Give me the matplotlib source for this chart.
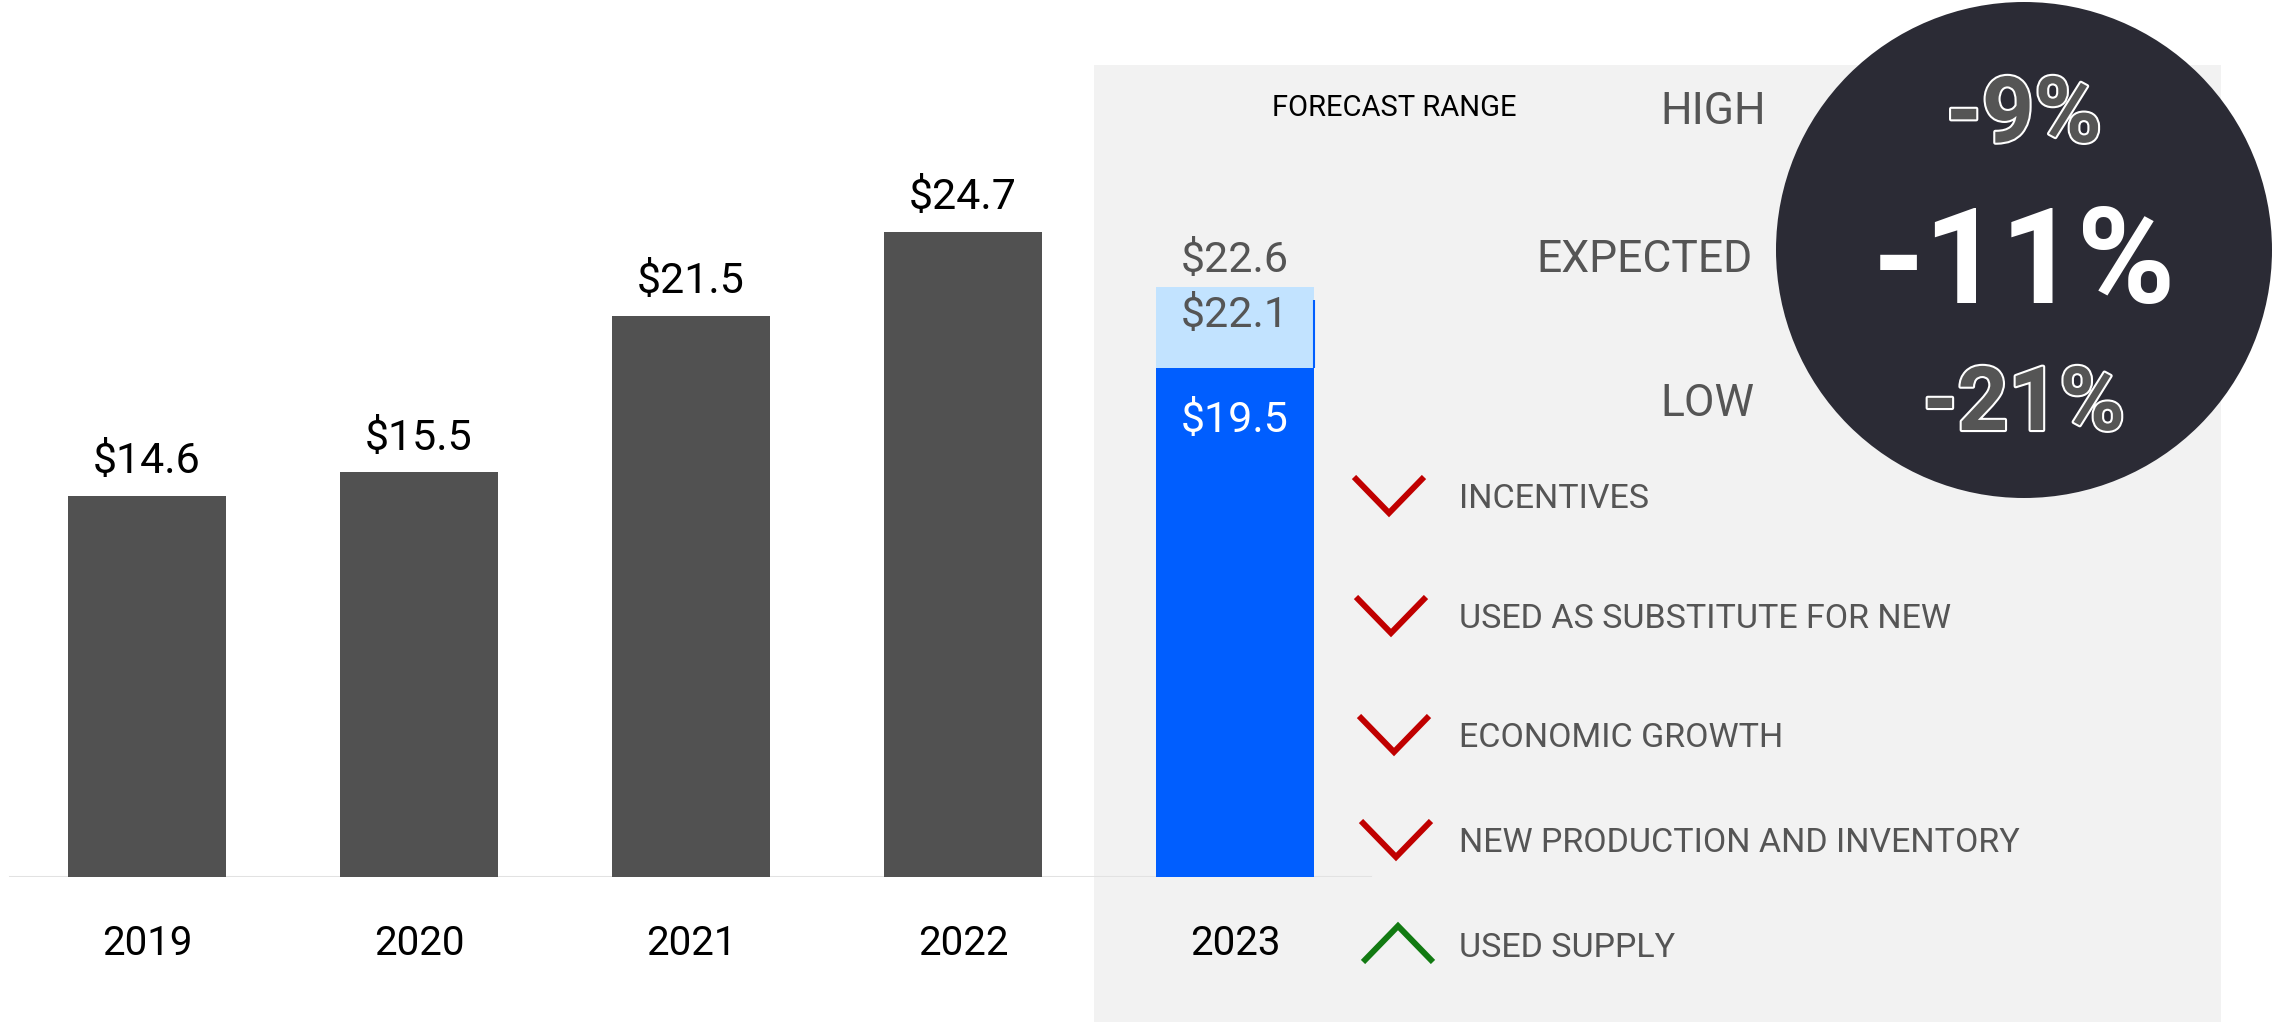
import matplotlib
matplotlib.use('Agg')
import matplotlib.pyplot as plt
import matplotlib.patheffects as pe
from matplotlib.patches import Rectangle, Circle

plt.rcParams['font.family'] = ['Roboto', 'DejaVu Sans']

# data
years = ['2019', '2020', '2021', '2022', '2023']
actuals = [14.6, 15.5, 21.5, 24.7]
forecast_low = 19.5
forecast_expected = 22.1
forecast_high = 22.6
range_names = ['HIGH', 'EXPECTED', 'LOW']
range_pcts = ['-9%', '-11%', '-21%']
drivers = ['INCENTIVES', 'USED AS SUBSTITUTE FOR NEW', 'ECONOMIC GROWTH',
           'NEW PRODUCTION AND INVENTORY', 'USED SUPPLY']
driver_dirs = ['down', 'down', 'down', 'down', 'up']

# colours
dark = '#515151'
blue = '#005eff'
light_blue = '#c2e3ff'
panel_grey = '#f2f2f2'
circle_col = '#2b2b35'
text_grey = '#555555'

W, H = 2284, 1022
fig = plt.figure(figsize=(W / 100, H / 100), dpi=100)

# background layer in pixel coordinates
bg = fig.add_axes([0, 0, 1, 1], zorder=0)
bg.set_xlim(0, W)
bg.set_ylim(H, 0)
bg.axis('off')
bg.add_patch(Rectangle((1094, 65), 2221 - 1094, H - 65, color=panel_grey, lw=0))

# bar layer
ax = fig.add_axes([0, 145 / H, 1, 877 / H], zorder=1)
ax.patch.set_alpha(0)
ax.set_xlim(-147 / 272, (W - 147) / 272)
ax.set_ylim(0, 877 / 26.1)
ax.axis('off')

bw = 158 / 272
x = list(range(len(years)))
ax.axhline(0, xmin=10 / W, xmax=1370 / W, color='#e2e2e2', lw=2.2, zorder=0)
ax.bar(x[:4], actuals, width=bw, color=dark, zorder=2)
ax.bar(x[4], forecast_low, width=bw, color=blue, zorder=2)
ax.bar(x[4], forecast_high - forecast_low, bottom=forecast_low, width=bw,
       color=light_blue, zorder=2)
ax.vlines(x[4] + bw / 2, forecast_low, forecast_expected, color=blue, lw=1.5, zorder=3)

for i, v in enumerate(actuals):
    ax.annotate(f'${v}', (i, v), xytext=(0, 16.5), textcoords='offset points',
                ha='center', va='baseline', fontsize=31, color='black')
for i, yr in enumerate(years):
    ax.annotate(yr, (i, 0), xytext=(0, -56), textcoords='offset points',
                ha='center', va='baseline', fontsize=29, color='black')

ax.annotate(f'${forecast_high}', (4, forecast_high), xytext=(0, 11), textcoords='offset points',
            ha='center', va='baseline', fontsize=31, color=text_grey)
ax.annotate(f'${forecast_expected}', (4, forecast_expected), xytext=(0, -19.5),
            textcoords='offset points', ha='center', va='baseline', fontsize=31, color=text_grey)
ax.annotate(f'${forecast_low}', (4, forecast_low), xytext=(0, -46), textcoords='offset points',
            ha='center', va='baseline', fontsize=31, color='white')

# forecast range panel
bg.text(1394, 116, 'FORECAST RANGE', ha='center', va='baseline', fontsize=21, color='black')
for name, cx, by in zip(range_names, [1713, 1644, 1707], [124, 272, 416]):
    bg.text(cx, by, name, ha='center', va='baseline', fontsize=32, color=text_grey)

bg.add_patch(Circle((2024, 250), 248, color=circle_col, lw=0))
outline = [pe.withStroke(linewidth=3, foreground='white')]
bg.text(2024, 142, range_pcts[0], ha='center', va='baseline', fontsize=66,
        fontweight='bold', color=text_grey, path_effects=outline)
bg.text(2024, 303, range_pcts[1], ha='center', va='baseline', fontsize=96,
        fontweight='bold', color='white')
bg.text(2024, 430, range_pcts[2], ha='center', va='baseline', fontsize=64,
        fontweight='bold', color=text_grey, path_effects=outline)

# drivers with chevrons
row_y = [495, 615, 734, 839, 944]
chev_x = [1389, 1391, 1394, 1396, 1398]
for name, d, cy, cx in zip(drivers, driver_dirs, row_y, chev_x):
    hw, hh = 35, 18
    if d == 'down':
        xs, ys, col = [cx - hw, cx, cx + hw], [cy - hh, cy + hh, cy - hh], '#c00000'
    else:
        xs, ys, col = [cx - hw, cx, cx + hw], [cy + hh, cy - hh, cy + hh], '#127a12'
    bg.plot(xs, ys, color=col, lw=4.3, solid_joinstyle='miter', solid_capstyle='butt')
    bg.text(1459, cy + 13, name, ha='left', va='baseline', fontsize=24.5, color=text_grey)

fig.savefig('out.png', dpi=100)
